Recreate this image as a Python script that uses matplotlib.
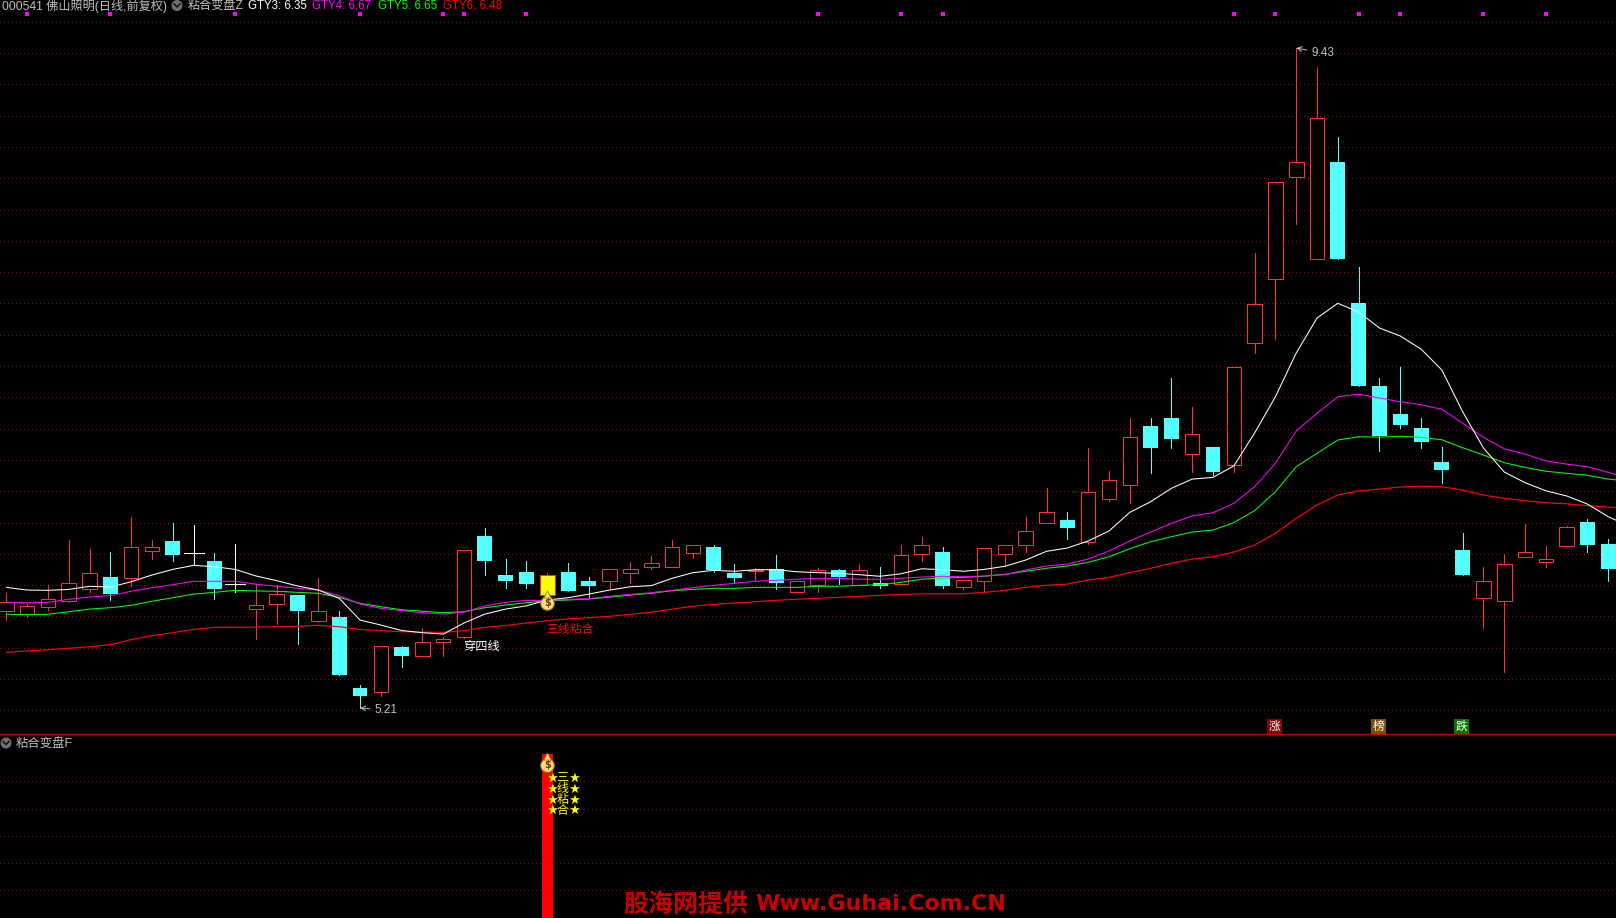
import matplotlib
matplotlib.use("Agg")
import matplotlib.pyplot as plt
from matplotlib.patches import Circle
from matplotlib.lines import Line2D
from matplotlib.transforms import IdentityTransform
import numpy as np

plt.rcParams['font.family'] = ['Liberation Sans', 'Noto Sans CJK SC']

# candles
opens = [5.833, 5.814, 5.858, 5.897, 5.973, 6.048, 6.044, 6.217, 6.279, 6.200,
         6.151, 6.002, 5.845, 5.877, 5.933, 5.769, 5.792, 5.338, 5.314, 5.600,
         5.545, 5.634, 5.666, 6.311, 6.061, 6.080, 5.933, 6.080, 6.023, 6.025,
         6.076, 6.114, 6.114, 6.204, 6.240, 6.074, 6.087, 6.097, 5.954, 5.999,
         6.091, 5.997, 6.008, 6.005, 6.197, 6.208, 5.984, 6.025, 6.197, 6.255,
         6.396, 6.413, 6.274, 6.549, 6.639, 7.015, 7.066, 6.837, 6.880, 6.767,
         7.544, 7.954, 8.606, 8.081, 8.704, 7.802, 7.271, 7.091, 7.002, 6.784,
         6.221, 5.916, 5.897, 6.178, 6.146, 6.248, 6.400, 6.259]
closes = [5.886, 5.861, 5.906, 6.008, 6.072, 5.939, 6.238, 6.240, 6.189, 6.200,
          5.971, 6.002, 5.867, 5.937, 5.831, 5.829, 5.421, 5.287, 5.605, 5.543,
          5.630, 5.650, 6.219, 6.151, 6.023, 6.003, 6.061, 5.959, 5.991, 6.097,
          6.097, 6.136, 6.238, 6.251, 6.093, 6.042, 6.095, 6.010, 6.021, 6.091,
          6.048, 6.091, 5.991, 6.187, 6.251, 5.991, 6.027, 6.232, 6.251, 6.341,
          6.462, 6.362, 6.590, 6.667, 6.942, 6.874, 6.931, 6.962, 6.720, 7.390,
          7.793, 8.574, 8.702, 8.984, 8.083, 7.271, 6.951, 7.021, 6.912, 6.733,
          6.061, 6.021, 6.130, 6.206, 6.161, 6.366, 6.253, 6.099]
highs = [5.944, 5.876, 5.997, 6.285, 6.226, 6.208, 6.430, 6.285, 6.394, 6.381,
         6.202, 6.259, 6.002, 5.997, 5.933, 6.040, 5.831, 5.357, 5.605, 5.607,
         5.722, 5.664, 6.219, 6.362, 6.163, 6.151, 6.074, 6.138, 6.048, 6.097,
         6.144, 6.183, 6.285, 6.251, 6.253, 6.131, 6.104, 6.189, 6.021, 6.106,
         6.097, 6.131, 6.112, 6.253, 6.304, 6.240, 6.027, 6.232, 6.251, 6.430,
         6.616, 6.464, 6.872, 6.727, 7.064, 7.064, 7.322, 7.136, 6.880, 7.390,
         8.120, 8.574, 9.434, 9.312, 8.864, 8.032, 7.322, 7.392, 7.066, 6.878,
         6.330, 6.112, 6.195, 6.387, 6.247, 6.375, 6.419, 6.291]
lows = [5.773, 5.794, 5.837, 5.890, 5.952, 5.901, 5.991, 6.163, 6.151, 6.131,
        5.908, 5.952, 5.653, 5.747, 5.619, 5.760, 5.421, 5.210, 5.287, 5.472,
        5.545, 5.543, 5.658, 6.061, 5.978, 5.978, 5.933, 5.959, 5.920, 5.971,
        6.010, 6.099, 6.114, 6.170, 6.080, 6.008, 6.029, 5.971, 5.954, 5.952,
        6.003, 5.997, 5.978, 6.005, 6.151, 5.978, 5.971, 5.959, 6.119, 6.208,
        6.396, 6.291, 6.259, 6.535, 6.524, 6.714, 6.874, 6.720, 6.701, 6.720,
        7.484, 7.573, 8.309, 8.081, 8.083, 7.271, 6.855, 7.002, 6.874, 6.650,
        6.061, 5.722, 5.440, 6.178, 6.112, 6.248, 6.208, 6.023]

# moving lines, one extra value runs off the right edge
gty3 = [5.982, 5.965, 5.963, 5.969, 5.989, 5.984, 6.018, 6.061, 6.097, 6.123,
        6.114, 6.097, 6.055, 6.025, 5.991, 5.965, 5.912, 5.773, 5.741, 5.706,
        5.692, 5.683, 5.754, 5.811, 5.843, 5.864, 5.901, 5.916, 5.939, 5.965,
        5.986, 5.993, 6.040, 6.076, 6.091, 6.085, 6.095, 6.095, 6.082, 6.076,
        6.072, 6.063, 6.053, 6.069, 6.101, 6.095, 6.085, 6.097, 6.117, 6.157,
        6.213, 6.234, 6.279, 6.343, 6.462, 6.530, 6.616, 6.675, 6.686, 6.759,
        6.970, 7.202, 7.482, 7.706, 7.800, 7.744, 7.642, 7.591, 7.507, 7.373,
        7.106, 6.874, 6.720, 6.652, 6.600, 6.567, 6.515, 6.434, 6.375]
gty4 = [5.886, 5.884, 5.886, 5.906, 5.920, 5.929, 5.957, 5.980, 5.999, 6.021,
        6.021, 6.021, 6.002, 5.989, 5.976, 5.965, 5.929, 5.876, 5.848, 5.833,
        5.820, 5.811, 5.824, 5.863, 5.886, 5.899, 5.897, 5.906, 5.909, 5.925,
        5.937, 5.948, 5.963, 5.980, 5.995, 6.008, 6.021, 6.027, 6.034, 6.040,
        6.040, 6.034, 6.034, 6.040, 6.048, 6.053, 6.050, 6.055, 6.063, 6.093,
        6.119, 6.131, 6.163, 6.215, 6.279, 6.336, 6.392, 6.439, 6.460, 6.520,
        6.626, 6.776, 6.983, 7.096, 7.202, 7.218, 7.194, 7.170, 7.151, 7.122,
        7.032, 6.942, 6.869, 6.835, 6.791, 6.771, 6.754, 6.718, 6.682]
gty5 = [5.810, 5.807, 5.810, 5.826, 5.843, 5.852, 5.867, 5.893, 5.916, 5.939,
        5.950, 5.963, 5.959, 5.957, 5.950, 5.944, 5.918, 5.880, 5.858, 5.839,
        5.829, 5.820, 5.826, 5.852, 5.869, 5.884, 5.895, 5.901, 5.907, 5.920,
        5.933, 5.944, 5.961, 5.969, 5.976, 5.976, 5.982, 5.982, 5.982, 5.989,
        5.989, 5.995, 5.999, 6.014, 6.034, 6.042, 6.046, 6.053, 6.066, 6.085,
        6.104, 6.119, 6.142, 6.178, 6.229, 6.274, 6.306, 6.336, 6.349, 6.396,
        6.473, 6.594, 6.754, 6.840, 6.925, 6.946, 6.944, 6.949, 6.942, 6.927,
        6.876, 6.829, 6.780, 6.750, 6.725, 6.712, 6.699, 6.675, 6.662]
gty6 = [5.566, 5.575, 5.583, 5.592, 5.602, 5.615, 5.647, 5.673, 5.692, 5.713,
        5.726, 5.726, 5.728, 5.730, 5.733, 5.739, 5.730, 5.713, 5.705, 5.698,
        5.696, 5.694, 5.705, 5.726, 5.738, 5.754, 5.769, 5.780, 5.788, 5.797,
        5.810, 5.822, 5.843, 5.861, 5.873, 5.882, 5.890, 5.899, 5.906, 5.912,
        5.918, 5.925, 5.931, 5.937, 5.941, 5.941, 5.941, 5.950, 5.963, 5.982,
        5.995, 6.003, 6.029, 6.046, 6.076, 6.104, 6.136, 6.163, 6.178, 6.208,
        6.253, 6.328, 6.424, 6.509, 6.573, 6.599, 6.611, 6.624, 6.629, 6.626,
        6.605, 6.573, 6.552, 6.537, 6.524, 6.517, 6.505, 6.496, 6.483]

signal_days = [1, 5, 11, 17, 21, 22, 25, 39, 43, 45, 59, 61, 65, 67, 71, 74]
badge_days = [61, 66, 70]
badge_labels = ['涨', '榜', '跌']
badge_colors = ['#8b0000', '#8b4a00', '#007a00']
stick_labels = ['三', '线', '粘', '合']
stick_day = 26

legend_names = ['GTY3: 6.35', 'GTY4: 6.67', 'GTY5: 6.65', 'GTY6: 6.48']

RED = '#ff3232'
CYAN = '#54ffff'
GRID = '#a00000'
GRAY = '#c0c0c0'
XLIM = (-0.303, 77.37)


def draw_bag(ax, x, y, dy):
    # small money bag, no emoji font here
    ax.scatter([x], [y], s=95, c='#ffe27a', edgecolors='#a87a20', linewidths=0.8, zorder=8)
    ax.scatter([x], [y + dy], s=26, c='#ffe27a', marker='^', edgecolors='#a87a20', linewidths=0.6, zorder=8)
    ax.text(x, y, '$', color='#7a3010', fontsize=7, fontweight='bold', ha='center', va='center',
            family='DejaVu Sans', zorder=9)


def draw_icon(fig, x, y):
    # round collapse button, pixel positions from the top left
    fy = 918 - y
    fig.add_artist(Circle((x, fy), 5.5, transform=IdentityTransform(), facecolor='#707070', edgecolor='none'))
    fig.add_artist(Line2D([x - 3, x, x + 3], [fy + 1.5, fy - 1.5, fy + 1.5], transform=IdentityTransform(),
                          color='#111111', lw=1.1))


fig = plt.figure(figsize=(16.16, 9.18), dpi=100, facecolor='black')
ax = fig.add_axes([0, 184 / 918, 1, 734 / 918])
ax2 = fig.add_axes([0, 0, 1, 183 / 918])
for a in (ax, ax2):
    a.set_facecolor('black')
    a.set_xlim(*XLIM)
    a.axis('off')
ax.set_ylim(5.0436, 9.7412)
ax2.set_ylim(0, 1)

# dotted grids
for level in np.linspace(5.195, 9.602, 23):
    ax.axhline(level, color=GRID, lw=0.72, ls=(0, (1, 4)), antialiased=False, zorder=1)
for level in np.linspace(0.151, 0.747, 5):
    ax2.axhline(level, color=GRID, lw=0.72, ls=(0, (1, 4)), antialiased=False, zorder=1)

# candles
days = np.arange(len(opens))
for d in days:
    o, c, h, l = opens[d], closes[d], highs[d], lows[d]
    if o == c:
        col = 'white'
    elif c > o:
        col = RED
    else:
        col = CYAN
    ax.vlines(d, l, h, color=col, lw=0.72, antialiased=False, zorder=2)
    if o == c:
        ax.hlines(o, d - 0.48, d + 0.48, color=col, lw=0.72, antialiased=False, zorder=3)
    elif c > o:
        face = 'yellow' if d == stick_day else 'black'
        ax.bar(d, c - o, bottom=o, width=0.7, facecolor=face, edgecolor=col, linewidth=0.72, zorder=3)
    else:
        ax.bar(d, o - c, bottom=c, width=0.72, facecolor=col, edgecolor='none', linewidth=0, zorder=3)

# lines
line_x = np.arange(len(gty3))
ax.plot(line_x, gty6, color='#ff0000', lw=0.85, zorder=4)
ax.plot(line_x, gty5, color='#00ff00', lw=0.75, zorder=5)
ax.plot(line_x, gty4, color='#ff00ff', lw=0.75, zorder=5)
ax.plot(line_x, gty3, color='white', lw=0.75, zorder=6)

# signals along the top
ax.scatter(signal_days, [9.65] * len(signal_days), s=5, marker='s', c='#ff00ff', linewidths=0, zorder=6)

# hi/lo marks
ax.annotate('9.43', xy=(62, max(highs)), xytext=(1311, 865), xycoords='data', textcoords='figure pixels',
            color=GRAY, fontsize=8.5, va='center',
            arrowprops=dict(arrowstyle='->', color=GRAY, lw=0.7, shrinkA=1, shrinkB=0))
ax.annotate('5.21', xy=(17, min(lows)), xytext=(374, 208), xycoords='data', textcoords='figure pixels',
            color=GRAY, fontsize=8.5, va='center',
            arrowprops=dict(arrowstyle='->', color=GRAY, lw=0.7, shrinkA=1, shrinkB=0))

# labels on the chart
ax.text(21.95, 5.60, '穿四线', color='white', fontsize=8.8, ha='left', va='center', zorder=7)
ax.text(25.97, 5.71, '三线粘合', color='#ff0000', fontsize=8.6, ha='left', va='center', zorder=7)
draw_bag(ax, stick_day, 5.882, 0.055)

for d, lab, col in zip(badge_days, badge_labels, badge_colors):
    ax.text(d - 0.05, 5.09, lab, color='white', fontsize=8.5, ha='center', va='center', zorder=7,
            bbox=dict(boxstyle='square,pad=0.12', facecolor=col, edgecolor='none'))

# header
fig.text(2 / 1616, 1 - 6 / 918, '000541 佛山照明(日线,前复权)', color=GRAY, fontsize=8.7, va='center')
fig.text(187.5 / 1616, 1 - 6 / 918, '粘合变盘Z', color=GRAY, fontsize=8.7, va='center')
draw_icon(fig, 177, 5.5)
header_x = [247.5, 312.5, 378, 443]
header_colors = ['white', '#ff00ff', '#00ff00', '#ff0000']
for x, name, col in zip(header_x, legend_names, header_colors):
    fig.text(x / 1616, 1 - 6 / 918, name, color=col, fontsize=8.3, va='center')

# separator
fig.add_artist(Line2D([0, 1], [1 - 733.8 / 918] * 2, color='#c00000', lw=1.0))

# lower panel
fig.text(16 / 1616, 1 - 745 / 918, '粘合变盘F', color=GRAY, fontsize=8.9, va='center')
draw_icon(fig, 6, 743)
ax2.bar(stick_day, 0.896, width=0.53, color='#ff0000', antialiased=False, zorder=3)
draw_bag(ax2, stick_day, 0.836, 0.05)
for k, lab in enumerate(stick_labels):
    y = 0.763 - 0.059 * k
    ax2.text(stick_day + 0.24, y, '★', color='#ffff00', fontsize=9.5, ha='center', va='center', family='DejaVu Sans', zorder=4)
    ax2.text(stick_day + 0.72, y, lab, color='#ffff00', fontsize=8.6, ha='center', va='center', zorder=4)
    ax2.text(stick_day + 1.29, y, '★', color='#ffff00', fontsize=9.5, ha='center', va='center', family='DejaVu Sans', zorder=4)

# watermark
fig.text(623 / 1616, 1 - 905 / 918, '股海网提供', color='#c80000', fontsize=18, fontweight='bold',
         va='center', family='Noto Sans CJK SC')
fig.text(755.5 / 1616, 1 - 903.5 / 918, 'Www.Guhai.Com.CN', color='#c80000', fontsize=15.9, fontweight='bold',
         va='center', family='DejaVu Sans')

fig.savefig('out.png', dpi=100, facecolor='black')
